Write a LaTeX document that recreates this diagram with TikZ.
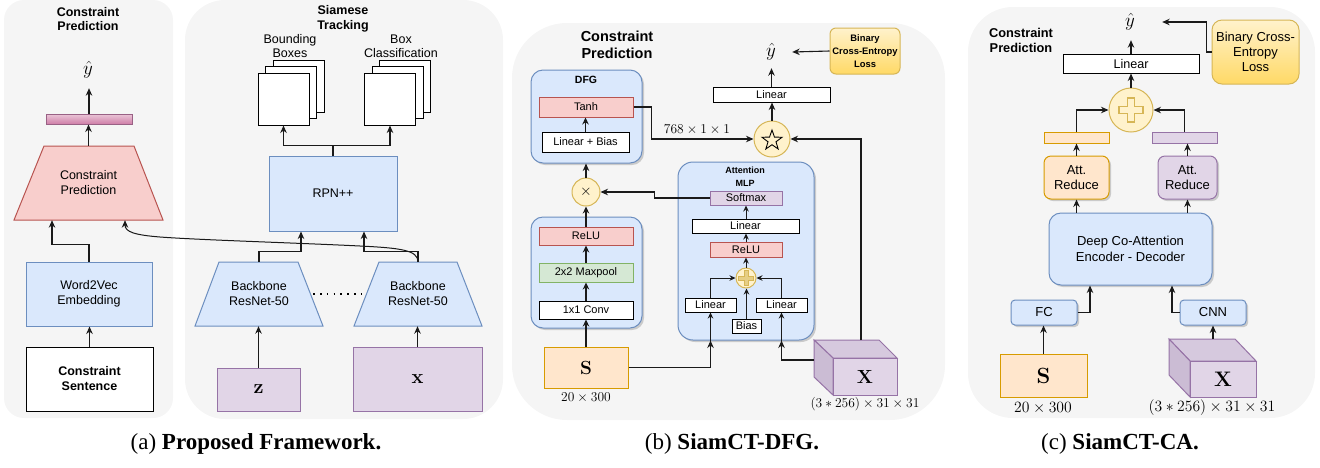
\RequirePackage{fix-cm}
\documentclass[tikz,border=0pt]{standalone}
\usepackage[no-math]{fontspec}
\newfontfamily\hv{Liberation Sans}
\newfontfamily\tms{Liberation Serif}
\usetikzlibrary{arrows.meta,calc,shadows}
\newcommand\fsz[2]{\fontsize{#1}{#2}\selectfont}
\definecolor{panel}{HTML}{F5F5F5}
\definecolor{bfill}{HTML}{DAE8FC}\definecolor{bline}{HTML}{6C8EBF}
\definecolor{rfill}{HTML}{F8CECC}\definecolor{rline}{HTML}{B85450}
\definecolor{gfill}{HTML}{D5E8D4}\definecolor{gline}{HTML}{82B366}
\definecolor{pfill}{HTML}{E1D5E7}\definecolor{pline}{HTML}{9673A6}
\definecolor{ofill}{HTML}{FFE6CC}\definecolor{oline}{HTML}{D79B00}
\definecolor{yfill}{HTML}{FFF2CC}\definecolor{yline}{HTML}{D6B656}
\definecolor{ygrad}{HTML}{FFD966}
\definecolor{ptop}{HTML}{D6C9DE}\definecolor{pside}{HTML}{CBBCD4}
\definecolor{mtop}{HTML}{EBC6D8}\definecolor{mbot}{HTML}{CF7FA8}\definecolor{mline}{HTML}{996185}
\definecolor{ln}{HTML}{1A1A1A}
\tikzset{
  wh/.style 2 args={minimum width=#1,minimum height=#2},
  every node/.style={inner sep=0pt,align=center},
  nw/.style={draw=black,fill=white,line width=1pt},
  nb/.style={draw=bline,fill=bfill,line width=1pt},
  nr/.style={draw=rline,fill=rfill,line width=1pt},
  ng/.style={draw=gline,fill=gfill,line width=1pt},
  np/.style={draw=pline,fill=pfill,line width=1pt},
  no/.style={draw=oline,fill=ofill,line width=1pt},
  ny/.style={draw=yline,fill=yfill,line width=1pt},
  sh/.style={drop shadow={opacity=0.25,shadow xshift=2pt,shadow yshift=-2pt,fill=black!70}},
  arr/.style={draw=ln,line width=1.1pt,-{Stealth[length=7.5pt,width=6.5pt]}},
  arrT/.style={draw=ln,line width=1.8pt,-{Stealth[length=7pt,width=6.5pt]}},
  arrS/.style={draw=ln,line width=1pt,-{Stealth[length=6pt,width=5.5pt]}},
  dotline/.style={draw=black,line width=1.5pt,dash pattern=on 1.6pt off 5.2pt},
}
\begin{document}
\begin{tikzpicture}[x=1pt,y=-1pt]
\useasboundingbox (0,0) rectangle (1320,467);
% ---------- panels ----------
\fill[panel,rounded corners=20pt] (4,0) rectangle (173,418);
\fill[panel,rounded corners=40pt] (185,0) rectangle (503,419);
\fill[panel,rounded corners=55pt] (512,23) rectangle (945,420);
\fill[panel,rounded corners=45pt] (968,7) rectangle (1315,418);

% ================= panel (a) left =================
\node[font=\hv\bfseries\fsz{12.5}{14.5}] (t1) at (88,19) {Constraint\\Prediction};
\node[font=\fsz{19}{20},wh={12}{36}] (yh1) at (88,70) {$\hat{y}$};
\node[draw=mline,top color=mtop,bottom color=mbot,line width=1pt,wh={86}{10}] (bar1) at (89,119) {};
\filldraw[draw=rline,fill=rfill,line width=1pt] (14,220) -- (163,220) -- (134,146) -- (44,146) -- cycle;
\node[wh={149}{74},font=\hv\fsz{12.5}{15}] (cp) at (88.5,183) {Constraint\\Prediction};
\node[nb,wh={126}{64},font=\hv\fsz{12.5}{15}] (w2v) at (89,294) {Word2Vec\\Embedding};
\node[nw,wh={127}{64},font=\hv\bfseries\fsz{12.5}{15}] (cs) at (89.5,379) {Constraint\\Sentence};

% ================= panel (a) right =================
\node[font=\hv\bfseries\fsz{12.5}{14.5}] (t2) at (343,19) {Siamese\\Tracking};
\node[font=\hv\fsz{12.5}{14}] (lbb) at (290,46) {Bounding\\Boxes};
\node[font=\hv\fsz{12.5}{14}] (lbc) at (401,46) {Box\\Classification};
\node[nw,wh={51}{52}] (sq1c) at (298.5,86.5) {};
\node[nw,wh={51}{52}] (sq1b) at (291,92.5) {};
\node[nw,wh={51}{52}] (sq1) at (283.5,99) {};
\node[nw,wh={51}{52}] (sq2c) at (405,86.5) {};
\node[nw,wh={51}{52}] (sq2b) at (397.5,92.5) {};
\node[nw,wh={51}{52}] (sq2) at (390,99) {};
\node[nb,wh={128}{75},font=\hv\fsz{12.5}{15}] (rpn) at (333,193.5) {RPN++};
\filldraw[draw=bline,fill=bfill,line width=1pt] (195,326) -- (323,326) -- (298,262) -- (219,262) -- cycle;
\node[wh={128}{64},font=\hv\fsz{12.5}{15}] (bb1) at (259,294) {Backbone\\ResNet-50};
\filldraw[draw=bline,fill=bfill,line width=1pt] (354,326) -- (482,326) -- (457,262) -- (379,262) -- cycle;
\node[wh={128}{64},font=\hv\fsz{12.5}{15}] (bb2) at (418,294) {Backbone\\ResNet-50};
\node[np,wh={83}{43},font=\fsz{20}{22}] (zb) at (258.5,389.5) {$\mathbf{z}$};
\node[np,wh={129}{64},font=\fsz{20}{22}] (xb) at (417.5,379) {$\mathbf{x}$};

% connectors (a)
\draw[arr] (cs.north) -- (cs.north |- w2v.south);
\draw[arr] (w2v.north) -- ++(0,-17) -| ($(cp.south)+(-36.5,0)$);
\draw[arr] (cp.north) -- (cp.north |- bar1.south);
\draw[arr] (bar1.north) -- (bar1.north |- yh1.south);
\draw[arr] (rpn.north) -- ++(0,-10) -| (sq1.south);
\draw[arr] (rpn.north) -- ++(0,-10) -| (sq2.south);
\draw[arr] (bb1.north) -- ++(0,-10) -| ($(rpn.south)+(-32,0)$);
\draw[arr] (bb2.north) -- ++(0,-10) -| ($(rpn.south)+(31,0)$);
\draw[arr] (zb.north) -- (zb.north |- bb1.south);
\draw[arr] (xb.north) -- (xb.north |- bb2.south);
\draw[dotline] ($(bb1.east)+(-10,0)$) -- ($(bb2.west)+(11,0)$);
\draw[arr,line width=1pt] (bb2.north) .. controls (418,250) and (400,248) .. (360,246)
   .. controls (300,243) and (200,240) .. (160,237)
   .. controls (135,235) and (125,232) .. ($(cp.south)+(36.5,0)$);

% ================= panel (b) =================
\node[font=\hv\bfseries\fsz{14.5}{16.5}] (t3) at (617,45) {Constraint\\Prediction};
\node[nb,rounded corners=12pt,sh,wh={111}{93}] (dfg) at (586.5,116.5) {};
\node[font=\hv\bfseries\fsz{10.5}{12}] (dfgl) at (586,80) {DFG};
\node[nr,wh={94}{20},font=\hv\fsz{11}{13}] (tanh) at (586,107) {Tanh};
\node[nw,wh={87}{20},font=\hv\fsz{11}{13}] (linb) at (585.5,142) {Linear + Bias};
\node[ny,circle,minimum size=28] (tm) at (586,192) {\fsz{15}{15}$\times$};
\node[nb,rounded corners=12pt,sh,wh={111}{111}] (cb) at (586.5,272.5) {};
\node[nr,wh={94}{18},font=\hv\fsz{11}{13}] (relu1) at (586,236) {ReLU};
\node[ng,wh={94}{19},font=\hv\fsz{11}{13}] (maxp) at (586,272.5) {2x2 Maxpool};
\node[nw,wh={94}{18},font=\hv\fsz{11}{13}] (conv1) at (586,310) {1x1 Conv};
\node[no,wh={84}{41},font=\fsz{19}{20}] (S1) at (586,367.5) {$\mathbf{S}$};
\node[font=\fsz{13.5}{16}] (S1l) at (586,398) {$20\times300$};
\node[nb,rounded corners=15pt,sh,wh={136}{178}] (at) at (746,251) {};
\node[font=\hv\bfseries\fsz{9}{13}] (atl) at (745,176.5) {Attention\\MLP};
\node[np,wh={72}{14},font=\hv\fsz{11}{13}] (soft) at (746,198) {Softmax};
\node[nw,wh={107}{14},font=\hv\fsz{11}{13}] (lin2) at (745.5,226) {Linear};
\node[nr,wh={72}{15},font=\hv\fsz{11}{13}] (relu2) at (746,249.5) {ReLU};
\node[ny,circle,minimum size=20] (plus1) at (746,278) {};
\filldraw[draw=yline,fill=yline!60!yfill,line width=0.6pt,shift={(plus1.center)}]
  (-1.8,-7.5) -- (1.8,-7.5) -- (1.8,-1.8) -- (7.5,-1.8) -- (7.5,1.8) -- (1.8,1.8) -- (1.8,7.5)
  -- (-1.8,7.5) -- (-1.8,1.8) -- (-7.5,1.8) -- (-7.5,-1.8) -- (-1.8,-1.8) -- cycle;
\node[nw,wh={51}{14},font=\hv\fsz{11}{13}] (linL) at (710.5,305) {Linear};
\node[nw,wh={51}{14},font=\hv\fsz{11}{13}] (linR) at (781.5,305) {Linear};
\node[nw,wh={29}{14},font=\hv\fsz{11}{13}] (bias) at (746.5,326) {Bias};
\filldraw[draw=pline,fill=ptop,line width=1pt] (814,340) -- (879,340) -- (897,358) -- (833,358) -- cycle;
\filldraw[draw=pline,fill=pside,line width=1pt] (814,340) -- (833,358) -- (833,395) -- (814,377) -- cycle;
\node[np,wh={64}{37},font=\fsz{19}{20}] (cube1) at (865,376.5) {$\mathbf{X}$};
\node[font=\fsz{13.5}{16}] (cube1l) at (865,404) {$(3*256)\times31\times31$};
\node[ny,circle,minimum size=36] (star) at (772,139) {};
\draw[line width=0.9pt,line join=miter,shift={(772,140.5)}]
  (-90:10.5) -- (-54:4.2) -- (-18:10.5) -- (18:4.2) -- (54:10.5) -- (90:4.2)
  -- (126:10.5) -- (162:4.2) -- (198:10.5) -- (234:4.2) -- cycle;
\node[nw,wh={117}{15},font=\hv\fsz{11}{13}] (lin3) at (771.5,94.5) {Linear};
\node[font=\fsz{19}{20},wh={42}{32}] (yh2) at (771,52) {$\hat{y}$};
\node[draw=yline,top color=yfill,bottom color=ygrad,line width=1pt,rounded corners=6pt,wh={70}{46},font=\hv\bfseries\fsz{9.4}{13}] (bce1) at (865,51) {Binary\\Cross-Entropy\\Loss};
\node[font=\fsz{13.5}{16}] (dim1) at (697,130) {$768\times1\times1$};
\coordinate (c1l) at (814,360);
\coordinate (c1t) at (861,340);

% connectors (b)
\draw[arrT] (S1.north) -- (conv1.south);
\draw[arrT] (conv1.north) -- (maxp.south);
\draw[arrT] (maxp.north) -- (relu1.south);
\draw[arrT] (relu1.north) -- (tm.south);
\draw[arr] (tm.north) -- (tm.north |- dfg.south);
\draw[arrT] (linb.north) -- (linb.north |- tanh.south);
\draw[arr] (tanh.east) -- ++(18,0) |- (star.west);
\draw[arr] (soft.west) -- ++(-55,0) |- (tm.east);
\draw[arr] (S1.east) -| (linL.south |- at.south);
\draw[arrS] (linL.south |- at.south) -- (linL.south);
\draw[arr] (c1l) -| (linR.south |- at.south);
\draw[arrS] (linR.south |- at.south) -- (linR.south);
\draw[arr] (c1t) |- (star.east);
\draw[arrS] (linL.north) |- (plus1.west);
\draw[arrS] (linR.north) |- (plus1.east);
\draw[arrS,line width=1.6pt] (bias.north) -- (bias.north |- plus1.south);
\draw[arrS] (plus1.north) -- (plus1.north |- relu2.south);
\draw[arrS] (relu2.north) -- (relu2.north |- lin2.south);
\draw[arrS] (soft.south |- lin2.north) -- (soft.south);
\draw[arr] (star.north) -- (star.north |- lin3.south);
\draw[arr] (lin3.north) -- (lin3.north |- yh2.south);
\draw[arr] (bce1.west) -- (yh2.east);

% ================= panel (c) =================
\node[font=\hv\bfseries\fsz{12.8}{15}] (t4) at (1021,40) {Constraint\\Prediction};
\node[font=\fsz{19}{20},wh={64}{36}] (yh3) at (1130,22) {$\hat{y}$};
\node[nw,wh={136}{19},font=\hv\fsz{12.6}{15}] (lin4) at (1131,63.5) {Linear};
\node[draw=yline,top color=yfill,bottom color=ygrad,line width=1pt,rounded corners=10pt,wh={87}{64},font=\hv\fsz{13}{15}] (bce2) at (1255.5,52) {Binary Cross-\\Entropy\\Loss};
\node[ny,circle,minimum size=44] (plus2) at (1131,110) {};
\filldraw[draw=yline,fill=yfill,line width=1.2pt,shift={(plus2.center)}]
  (-3.5,-12) -- (3.5,-12) -- (3.5,-3.5) -- (12,-3.5) -- (12,3.5) -- (3.5,3.5) -- (3.5,12)
  -- (-3.5,12) -- (-3.5,3.5) -- (-12,3.5) -- (-12,-3.5) -- (-3.5,-3.5) -- cycle;
\node[no,wh={65}{11}] (barO) at (1076.5,137.5) {};
\node[np,wh={65}{11}] (barP) at (1184.5,137.5) {};
\node[no,rounded corners=7pt,sh,wh={65}{43},font=\hv\fsz{13}{15}] (arO) at (1076.5,177.5) {Att.\\Reduce};
\node[np,rounded corners=7pt,sh,wh={59}{43},font=\hv\fsz{13}{15}] (arP) at (1187.5,177.5) {Att.\\Reduce};
\node[nb,rounded corners=12pt,sh,wh={163}{72},font=\hv\fsz{13}{15.5}] (dca) at (1130.5,249) {Deep Co-Attention\\Encoder - Decoder};
\node[nb,rounded corners=4pt,sh,wh={66}{25},font=\hv\fsz{13}{15}] (fc) at (1044,312.5) {FC};
\node[nb,rounded corners=4pt,sh,wh={66}{25},font=\hv\fsz{13}{15}] (cnn) at (1213,312.5) {CNN};
\node[no,wh={87}{43},font=\fsz{22}{24}] (S2) at (1043.5,375.5) {$\mathbf{S}$};
\node[font=\fsz{15.7}{18}] (S2l) at (1043,408) {$20\times300$};
\filldraw[draw=pline,fill=ptop,line width=1pt] (1169,339) -- (1235,339) -- (1256,361) -- (1190,361) -- cycle;
\filldraw[draw=pline,fill=pside,line width=1pt] (1169,339) -- (1190,361) -- (1190,397) -- (1169,375) -- cycle;
\node[np,wh={66}{36},font=\fsz{21}{22}] (cube2) at (1223,379) {$\mathbf{X}$};
\node[font=\fsz{15.7}{18}] (cube2l) at (1212,408) {$(3*256)\times31\times31$};
\coordinate (c2t) at (1213,339);

% connectors (c)
\draw[arr] (bce2.west) -- ++(-5,0) |- (yh3.east);
\draw[arr] (lin4.north) -- (lin4.north |- yh3.south);
\draw[arr] (plus2.north) -- (plus2.north |- lin4.south);
\draw[arr] (barO.north) |- (plus2.west);
\draw[arr] (barP.north) |- (plus2.east);
\draw[arr] (arO.north) -- (barO.south);
\draw[arr] (arP.north) -- (arP.north |- barP.south);
\draw[arr] (arO.south |- dca.north) -- (arO.south);
\draw[arr] (arP.south |- dca.north) -- (arP.south);
\draw[arr] (fc.east) -| ($(dca.south)+(-40.5,0)$);
\draw[arr] (cnn.west) -| ($(dca.south)+(41.5,0)$);
\draw[arr] (S2.north) -- (S2.north |- fc.south);
\draw[arr] (c2t) -- (cnn.south);

% ================= captions =================
\node[font=\tms\fsz{23}{26}] (capa) at (256,444) {(a) \textbf{Proposed Framework.}};
\node[font=\tms\fsz{23}{26}] (capb) at (732,444) {(b) \textbf{SiamCT-DFG.}};
\node[font=\tms\fsz{23}{26}] (capc) at (1120,444) {(c) \textbf{SiamCT-CA.}};
\end{tikzpicture}
\end{document}
